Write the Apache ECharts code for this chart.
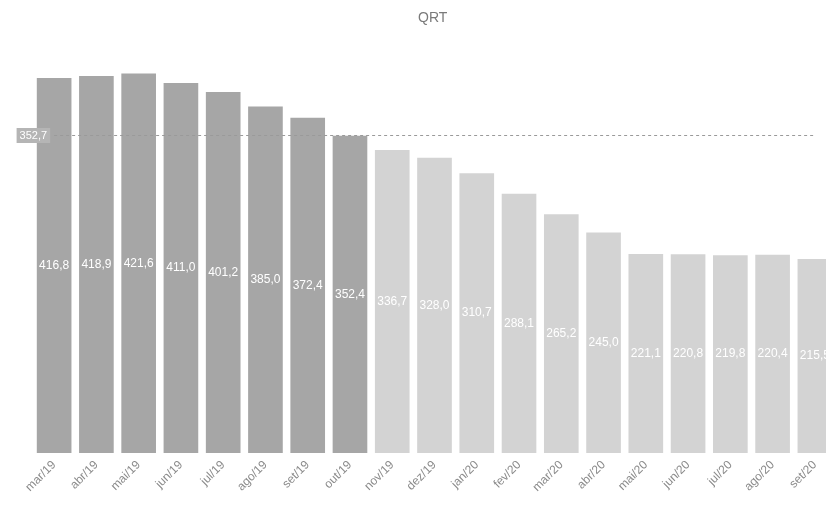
<!DOCTYPE html>
<html>
<head>
<meta charset="utf-8">
<script src="https://cdn.jsdelivr.net/npm/echarts@6/dist/echarts.min.js"></script>
<style>
  html, body { margin: 0; padding: 0; background: #fff; overflow: hidden; }
  #chart { width: 836px; height: 513px; }
</style>
</head>
<body>
<div id="chart"></div>
<script>
// Monthly QRT values (mar/19 – set/20)
const meses = [
  'mar/19', 'abr/19', 'mai/19', 'jun/19', 'jul/19', 'ago/19', 'set/19', 'out/19',
  'nov/19', 'dez/19', 'jan/20', 'fev/20', 'mar/20', 'abr/20', 'mai/20', 'jun/20',
  'jul/20', 'ago/20', 'set/20'
];
const qrt = [
  416.8, 418.9, 421.6, 411.0, 401.2, 385.0, 372.4, 352.4,
  336.7, 328.0, 310.7, 288.1, 265.2, 245.0, 221.1, 220.8,
  219.8, 220.4, 215.5
];
// Reference level drawn as a dashed line
const referencia = 352.7;
// Number of leading months drawn in the darker tone
const mesesDestaque = 8;

const fmt = v => v.toFixed(1).replace('.', ',');

const chart = echarts.init(document.getElementById('chart'), null, { renderer: 'canvas' });
chart.setOption({
  animation: false,
  backgroundColor: '#ffffff',
  title: {
    text: 'QRT',
    left: 413,
    top: 6,
    textStyle: { fontFamily: 'Liberation Sans', fontSize: 14, fontWeight: 'normal', color: '#7a7a7a' }
  },
  grid: { left: 33, right: 0, top: 48, bottom: 60, containLabel: false },
  xAxis: {
    type: 'category',
    data: meses,
    axisLine: { show: false },
    axisTick: { show: false },
    axisLabel: {
      rotate: 45,
      margin: 10,
      interval: 0,
      fontFamily: 'Liberation Sans',
      fontSize: 12,
      color: '#8a8a8a'
    }
  },
  yAxis: {
    type: 'value',
    min: 0,
    max: 450,
    show: false,
    splitLine: { show: false }
  },
  series: [{
    type: 'bar',
    data: qrt,
    barWidth: '82%',
    itemStyle: {
      color: p => p.dataIndex < mesesDestaque ? '#a6a6a6' : '#d3d3d3'
    },
    label: {
      show: true,
      position: 'inside',
      formatter: p => fmt(p.value),
      fontFamily: 'Liberation Sans',
      fontSize: 12,
      color: '#ffffff'
    },
    markLine: {
      silent: true,
      symbol: ['none', 'none'],
      lineStyle: { type: [3, 3], color: '#9a9a9a', width: 1 },
      label: {
        show: true,
        position: 'start',
        formatter: () => fmt(referencia),
        backgroundColor: '#b5b5b5',
        color: '#ffffff',
        padding: [2, 3],
        fontFamily: 'Liberation Sans',
        fontSize: 11,
        distance: 4
      },
      data: [[
        { coord: [meses[0], referencia] },
        { coord: [meses[meses.length - 1], referencia] }
      ]]
    }
  }]
});
</script>
</body>
</html>
